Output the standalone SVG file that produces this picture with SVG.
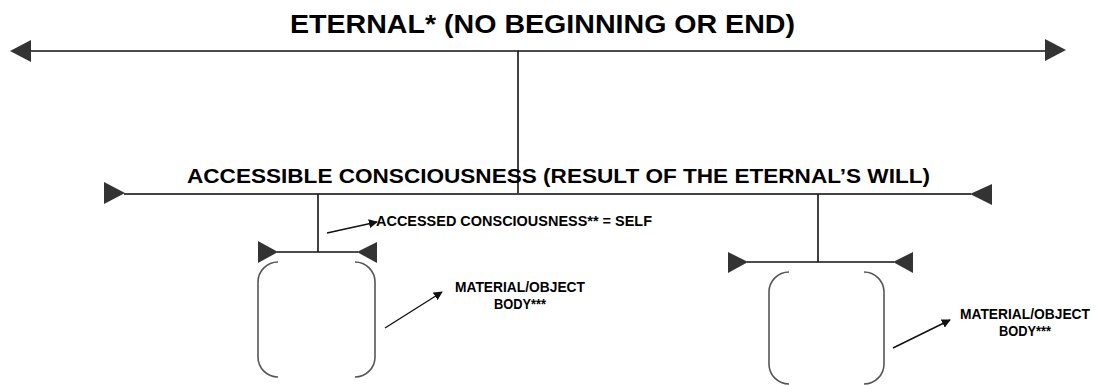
<svg xmlns="http://www.w3.org/2000/svg" width="1098" height="385" viewBox="0 0 1098 385">
  <style>
    .t { font-family: "Liberation Sans", Arial, sans-serif; font-weight: bold; fill: #000; }
    .ln { stroke: #111; stroke-width: 1.6; fill: none; }
    .ln2 { stroke: #444; stroke-width: 2; fill: none; }
    .head { fill: #333; }
    .br { stroke: #555; stroke-width: 1.6; fill: none; }
    .ptr { stroke: #111; stroke-width: 1.4; fill: none; marker-end: url(#ah); }
  </style>
  <defs>
    <marker id="ah" viewBox="0 0 10 10" refX="9" refY="5" markerWidth="9" markerHeight="9" markerUnits="userSpaceOnUse" orient="auto">
      <path d="M0,0 L10,5 L0,10 z" fill="#111"/>
    </marker>
  </defs>
  <rect width="1098" height="385" fill="#fff"/>

  <g id="connectors">
    <line class="ln" x1="30" y1="51" x2="1046" y2="51"/>
    <polygon class="head" points="10,51 31,40 31,62"/>
    <polygon class="head" points="1066,50 1045,39 1045,61"/>
    <line class="ln" x1="518" y1="51" x2="518" y2="194"/>
    <line class="ln2" x1="124" y1="194" x2="971" y2="194"/>
    <polygon class="head" points="125,193 104,182 104,204"/>
    <polygon class="head" points="970,194 992,184 992,205"/>
    <line class="ln" x1="318" y1="194" x2="318" y2="252"/>
    <line class="ln" x1="277" y1="252" x2="358" y2="252"/>
    <polygon class="head" points="278,252 258,241 258,263"/>
    <polygon class="head" points="357,252 377,242 377,263"/>
    <line class="ln" x1="818" y1="194" x2="818" y2="262"/>
    <line class="ln" x1="747" y1="262" x2="894" y2="262"/>
    <polygon class="head" points="748,262 728,252 728,273"/>
    <polygon class="head" points="893,262 913,252 913,273"/>
    <line class="ptr" x1="327" y1="233" x2="377" y2="222"/>
    <line class="ptr" x1="385" y1="328" x2="442" y2="292"/>
    <line class="ptr" x1="893" y1="348" x2="950" y2="320"/>
  </g>

  <g id="eternal">
    <text class="t" x="290" y="33" font-size="25" textLength="505" lengthAdjust="spacingAndGlyphs">ETERNAL* (NO BEGINNING OR END)</text>
  </g>

  <g id="accessible">
    <text class="t" x="187" y="183" font-size="21" textLength="743" lengthAdjust="spacingAndGlyphs">ACCESSIBLE CONSCIOUSNESS (RESULT OF THE ETERNAL’S WILL)</text>
  </g>

  <g id="accessed">
    <text class="t" x="376" y="226" font-size="15" textLength="276" lengthAdjust="spacingAndGlyphs">ACCESSED CONSCIOUSNESS** = SELF</text>
  </g>

  <g id="body-left">
    <path class="br" d="M278,262 A20,20 0 0 0 258,282 L258,357 A20,20 0 0 0 278,377"/>
    <path class="br" d="M355,262 A20,20 0 0 1 375,282 L375,357 A20,20 0 0 1 355,377"/>
  </g>
  <g id="label-left">
    <text class="t" x="520" y="292" font-size="14" text-anchor="middle" textLength="130" lengthAdjust="spacingAndGlyphs">MATERIAL/OBJECT</text>
    <text class="t" x="520" y="309" font-size="14" text-anchor="middle" textLength="52" lengthAdjust="spacingAndGlyphs">BODY***</text>
  </g>

  <g id="body-right">
    <path class="br" d="M789,272 A20,20 0 0 0 769,292 L769,364 A20,20 0 0 0 789,384"/>
    <path class="br" d="M864,272 A20,20 0 0 1 884,292 L884,364 A20,20 0 0 1 864,384"/>
  </g>
  <g id="label-right">
    <text class="t" x="1025" y="319" font-size="14" text-anchor="middle" textLength="130" lengthAdjust="spacingAndGlyphs">MATERIAL/OBJECT</text>
    <text class="t" x="1025" y="336" font-size="14" text-anchor="middle" textLength="52" lengthAdjust="spacingAndGlyphs">BODY***</text>
  </g>
</svg>
